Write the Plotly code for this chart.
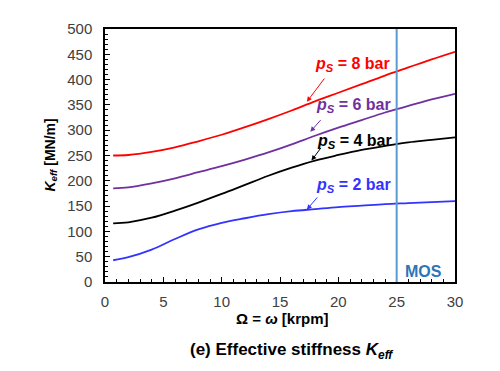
import plotly.graph_objects as go

speed = [0.7, 2, 4, 6, 8, 10, 12, 14, 16, 18, 20, 22, 24, 26, 28, 30]
k_8bar = [250, 251, 257, 266, 278, 291, 306, 322, 339, 357, 374, 391, 408, 424, 440, 455]
k_6bar = [185, 187, 195, 205, 217, 229, 242, 256, 272, 289, 305, 320, 335, 348, 361, 372]
k_4bar = [116, 118, 127, 141, 157, 174, 192, 210, 226, 240, 251, 261, 269, 276, 281, 286]
k_2bar = [43, 49, 64, 85, 104, 117, 126, 134, 140, 144, 148, 151, 154, 156, 158, 160]
mos_speed = 25

series = [
    ("8", k_8bar, "#FF0000"),
    ("6", k_6bar, "#7030A0"),
    ("4", k_4bar, "#000000"),
    ("2", k_2bar, "#3333FF"),
]

fig = go.Figure()
for name, vals, col in series:
    fig.add_trace(go.Scatter(x=speed, y=vals, mode="lines",
                             line=dict(color=col, width=1.8, shape="spline", smoothing=1.0),
                             showlegend=False))

fig.add_shape(type="line", x0=mos_speed, x1=mos_speed, y0=0, y1=500, xref="x", yref="y",
              line=dict(color="#5B9BD5", width=2))

# label positions (text) and arrows (tail -> head)
labels = [
    ("8", "#FF0000", 21.2, 430, 18.9, 405, 17.3, 356),
    ("6", "#7030A0", 21.3, 348, 18.6, 323, 17.6, 297),
    ("4", "#000000", 21.4, 277, 18.6, 268, 17.7, 240),
    ("2", "#3333FF", 21.3, 191, 18.3, 170, 17.3, 143),
]
for p, col, tx, ty, ax_, ay_, hx, hy in labels:
    fig.add_annotation(x=tx, y=ty, xref="x", yref="y", showarrow=False,
                       text=f"<b><i>p</i><sub><i>S</i></sub> = {p} bar</b>",
                       font=dict(family="Arial", size=16, color=col))
    fig.add_annotation(x=hx, y=hy, ax=ax_, ay=ay_, xref="x", yref="y", axref="x", ayref="y",
                       text="", showarrow=True, arrowhead=2, arrowsize=1, arrowwidth=1,
                       arrowcolor=col)

fig.add_annotation(x=27.3, y=20, xref="x", yref="y", showarrow=False, text="<b>MOS</b>",
                   font=dict(family="Arial", size=16, color="#2E75B6"))

fig.add_annotation(x=-0.157, y=0.5, xref="paper", yref="paper", showarrow=False, textangle=-90,
                   xanchor="center", yanchor="middle",
                   text="<b><i>K</i><sub><i>eff</i></sub> [MN/m]</b>",
                   font=dict(family="Arial", size=14, color="#000000"))
fig.add_annotation(x=0.506, y=-0.146, xref="paper", yref="paper", showarrow=False,
                   xanchor="center", yanchor="middle",
                   text="<b>Ω = <i>ω</i> [krpm]</b>",
                   font=dict(family="Arial", size=15, color="#000000"))
fig.add_annotation(x=0.534, y=-0.272, xref="paper", yref="paper", showarrow=False,
                   xanchor="center", yanchor="middle",
                   text="<b>(e) Effective stiffness <i>K</i><sub><i>eff</i></sub></b>",
                   font=dict(family="Arial", size=17, color="#000000"))

fig.update_xaxes(range=[0, 30], dtick=5, showgrid=False, zeroline=False, showline=True, linecolor="black",
                 linewidth=1.5, mirror=True, ticks="inside", ticklen=5, tickcolor="black",
                 minor=dict(ticks="inside", dtick=1, ticklen=3, tickcolor="black"),
                 tickfont=dict(family="Arial", size=15, color="#404040"), ticklabelstandoff=5)
fig.update_yaxes(range=[0, 500], dtick=50, showgrid=False, zeroline=False, showline=True, linecolor="black",
                 linewidth=1.5, mirror=True, ticks="inside", ticklen=5, tickcolor="black",
                 minor=dict(ticks="inside", dtick=10, ticklen=3, tickcolor="black"),
                 tickfont=dict(family="Arial", size=15, color="#404040"), ticklabelstandoff=8)

fig.update_layout(width=492, height=363, margin=dict(l=97, r=45, t=13, b=89),
                  plot_bgcolor="white", paper_bgcolor="white")
fig.write_html("out.html")
